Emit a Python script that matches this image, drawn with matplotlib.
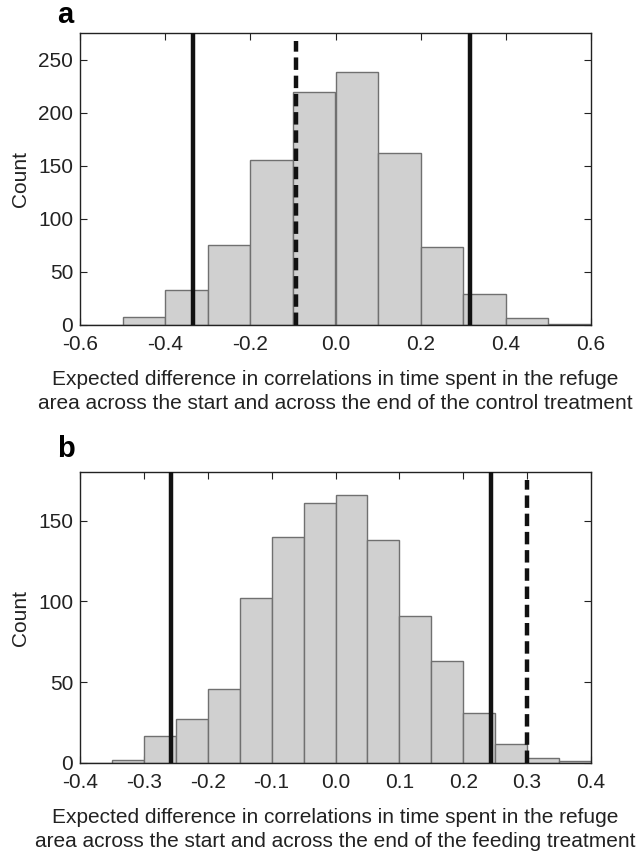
import matplotlib
matplotlib.use("Agg")
import matplotlib.pyplot as plt
import numpy as np

plt.rcParams['font.family'] = ['Liberation Sans', 'DejaVu Sans']

# Panel a data
edges_a = [-0.6, -0.5, -0.4, -0.3, -0.2, -0.1, 0.0, 0.1, 0.2, 0.3, 0.4, 0.5, 0.6]
counts_a = [0, 8, 33, 75, 155, 219, 238, 162, 73, 29, 7, 1]
solid_a = [-0.334, 0.317]
dashed_a = -0.093
dashed_top_a = 267
ylim_a = 275
xticks_a = [-0.6, -0.4, -0.2, 0.0, 0.2, 0.4, 0.6]
yticks_a = [0, 50, 100, 150, 200, 250]

# Panel b data
edges_b = [-0.4, -0.35, -0.3, -0.25, -0.2, -0.15, -0.1, -0.05, 0.0,
           0.05, 0.1, 0.15, 0.2, 0.25, 0.3, 0.35, 0.4]
counts_b = [0, 2, 17, 27, 46, 102, 140, 161, 166, 138, 91, 63, 31, 12, 3, 1]
solid_b = [-0.257, 0.244]
dashed_b = 0.300
dashed_top_b = 175
ylim_b = 180
xticks_b = [-0.4, -0.3, -0.2, -0.1, 0.0, 0.1, 0.2, 0.3, 0.4]
yticks_b = [0, 50, 100, 150]

label_a = ("Expected difference in correlations in time spent in the refuge\n"
           "area across the start and across the end of the control treatment")
label_b = ("Expected difference in correlations in time spent in the refuge\n"
           "area across the start and across the end of the feeding treatment")

fig = plt.figure(figsize=(6.44, 8.56), dpi=100)
W, H = 644, 856

def make_axes(top_px, bottom_px):
    return fig.add_axes([80 / W, (H - bottom_px) / H, 511 / W, (bottom_px - top_px) / H])

def draw(ax, edges, counts, solid, dashed, dtop, ylim, xticks, yticks, xlabel,
         letter, letter_y, fmt):
    edges = np.array(edges)
    widths = np.diff(edges)
    ax.bar(edges[:-1], counts, width=widths, align='edge', color='#d0d0d0',
           edgecolor='#707070', linewidth=1.0, zorder=2)
    for s in solid:
        ax.vlines(s, 0, ylim, colors='#111111', linewidth=3.2, zorder=3)
    ax.vlines(dashed, 0, dtop, colors='#111111', linewidth=3.2,
              linestyles=(0, (2.8, 1.3)), zorder=3)
    ax.set_xlim(edges[0], edges[-1])
    ax.set_ylim(0, ylim)
    ax.set_xticks(xticks)
    ax.set_xticklabels([fmt(v) for v in xticks])
    ax.set_yticks(yticks)
    ax.tick_params(direction='in', top=True, right=True, length=5, width=0.8,
                   labelsize=15, colors='#222222', labelcolor='#222222')
    ax.tick_params(axis='x', pad=7)
    ax.tick_params(axis='y', pad=5)
    ax.set_ylabel('Count', fontsize=15, labelpad=6, color='#222222')
    ax.set_xlabel(xlabel, fontsize=15, labelpad=12, linespacing=1.3,
                  color='#222222')
    for sp in ax.spines.values():
        sp.set_linewidth(1.0)
        sp.set_color('#222222')
    ax.text(-0.028, letter_y, letter, transform=ax.transAxes, fontsize=21,
            fontweight='bold', ha='center', va='bottom')

fmt = lambda v: f"{v:.1f}" if abs(v) > 1e-9 else "0.0"

ax_a = make_axes(33, 325)
draw(ax_a, edges_a, counts_a, solid_a, dashed_a, dashed_top_a, ylim_a,
     xticks_a, yticks_a, label_a, 'a', 1.012, fmt)

ax_b = make_axes(472, 763)
draw(ax_b, edges_b, counts_b, solid_b, dashed_b, dashed_top_b, ylim_b,
     xticks_b, yticks_b, label_b, 'b', 1.03, fmt)

fig.savefig('out.png', dpi=100)
